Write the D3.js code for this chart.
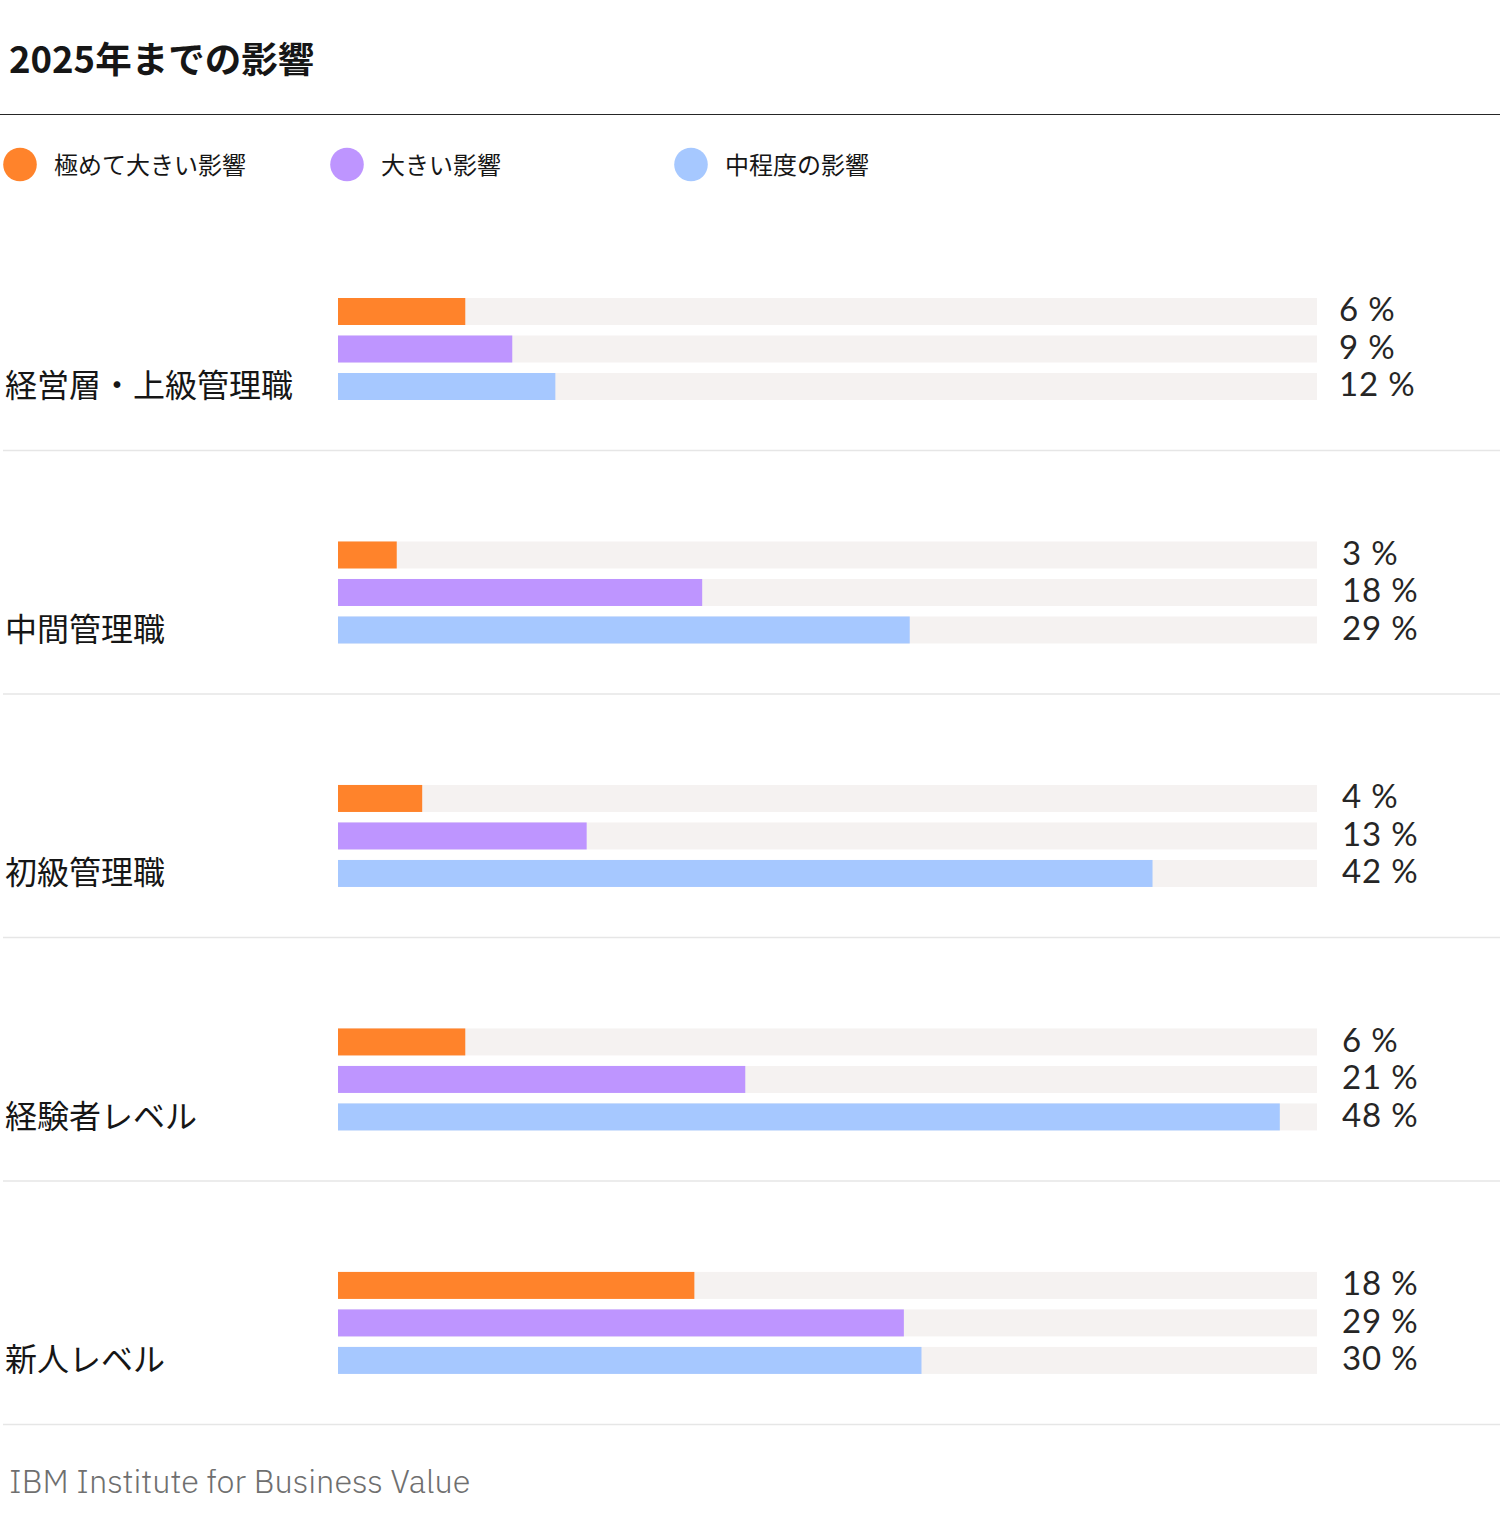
<!DOCTYPE html>
<html><head><meta charset="utf-8">
<script src="https://cdn.jsdelivr.net/npm/d3@7"></script>
<style>
html,body{margin:0;padding:0;background:#fff;}
svg{display:block;}
</style></head>
<body>
<div id="chart"></div>
<script>
// ---- data ----
const title = "2025年までの影響";
const categories = ["経営層・上級管理職", "中間管理職", "初級管理職", "経験者レベル", "新人レベル"];
const seriesNames = ["極めて大きい影響", "大きい影響", "中程度の影響"];
const seriesColors = ["#ff832b", "#be95ff", "#a6c8ff"];
// displayed labels (percent)
const extremeLabels = [6, 3, 4, 6, 18];
const largeLabels = [9, 18, 13, 21, 29];
const moderateLabels = [12, 29, 42, 48, 30];
// bar lengths (percent)
const extremeValues = [6.5, 3.0, 4.3, 6.5, 18.2];
const largeValues = [8.9, 18.6, 12.7, 20.8, 28.9];
const moderateValues = [11.1, 29.2, 41.6, 48.1, 29.8];
const source = "IBM Institute for Business Value";

const seriesValues = [extremeValues, largeValues, moderateValues];
const seriesLabels = [extremeLabels, largeLabels, moderateLabels];

const W = 1500, H = 1540;
const cjk = "'Noto Sans CJK JP', 'Noto Sans', sans-serif";
const latin = "Lato, 'Noto Sans', sans-serif";

const svg = d3.select("#chart").append("svg").attr("width", W).attr("height", H);

// title
svg.append("text").attr("x", 9).attr("y", 73)
  .attr("font-family", cjk).attr("font-weight", 700).attr("font-size", 36.5)
  .attr("fill", "#161616").text(title);
svg.append("line").attr("x1", 0).attr("x2", W).attr("y1", 114.5).attr("y2", 114.5)
  .attr("stroke", "#262626").attr("stroke-width", 1.2);

// legend
const legendX = d3.scaleOrdinal().domain(seriesNames).range([20, 347, 691]);
const lg = svg.append("g").selectAll("g").data(seriesNames).join("g")
  .attr("transform", d => `translate(${legendX(d)},164.5)`);
lg.append("circle").attr("r", 16.8).attr("fill", (d, i) => seriesColors[i]);
lg.append("text").attr("x", 34).attr("y", 9)
  .attr("font-family", cjk).attr("font-size", 24).attr("fill", "#161616").text(d => d);

// scales
const x = d3.scaleLinear().domain([0, 50]).range([338, 1317]);
const yGroup = d3.scaleBand().domain(categories).range([206.6, 1424]).paddingInner(0);
const ySeries = d3.scaleBand().domain(d3.range(3)).range([91.4, 193.4]).paddingInner(0.28).paddingOuter(0);

const groups = svg.append("g").selectAll("g").data(categories).join("g")
  .attr("transform", d => `translate(0,${yGroup(d)})`);

// tracks
groups.selectAll("rect.track").data(d3.range(3)).join("rect").attr("class", "track")
  .attr("x", x(0)).attr("y", s => ySeries(s))
  .attr("width", x(50) - x(0)).attr("height", ySeries.bandwidth())
  .attr("fill", "#f5f2f1");

// bars
groups.each(function(cat, ci) {
  const g = d3.select(this);
  g.selectAll("rect.bar").data(d3.range(3)).join("rect").attr("class", "bar")
    .attr("x", x(0)).attr("y", s => ySeries(s))
    .attr("width", s => x(seriesValues[s][ci]) - x(0))
    .attr("height", ySeries.bandwidth())
    .attr("fill", s => seriesColors[s]);
  g.selectAll("text.val").data(d3.range(3)).join("text").attr("class", "val")
    .attr("x", ci === 0 ? 1339 : 1342).attr("y", s => ySeries(s) + ySeries.bandwidth() / 2 + 10)
    .attr("font-family", latin).attr("font-size", 33).attr("letter-spacing", 0.8)
    .attr("fill", "#262626")
    .text(s => seriesLabels[s][ci] + " %");
  g.append("text").attr("x", 5)
    .attr("y", ySeries(2) + ySeries.bandwidth() / 2 + 11)
    .attr("font-family", cjk).attr("font-size", 32).attr("fill", "#161616")
    .text(cat);
});

// separators
groups.append("line").attr("x1", 3).attr("x2", W)
  .attr("y1", yGroup.bandwidth() + 0.5).attr("y2", yGroup.bandwidth() + 0.5)
  .attr("stroke", "#e6e6e6").attr("stroke-width", 1.5);

// footer
svg.append("text").attr("x", 9).attr("y", 1493)
  .attr("font-family", "'IBM Plex Sans', Roboto, sans-serif").attr("font-weight", 300)
  .attr("font-size", 32.5).attr("fill", "#6f6f6f").text(source);
</script>
</body></html>
